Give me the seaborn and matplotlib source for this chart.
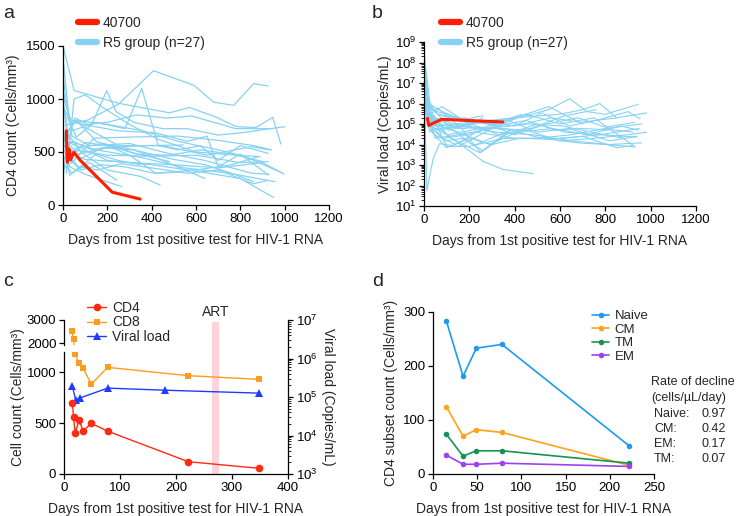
import matplotlib
matplotlib.use("Agg")
import matplotlib.pyplot as plt
import pandas as pd
import seaborn as sns
from matplotlib.lines import Line2D
from matplotlib.ticker import LogLocator, NullFormatter

sns.set_theme(style="ticks")
plt.rcParams["font.family"] = ["Liberation Sans", "DejaVu Sans"]
plt.rcParams["axes.edgecolor"] = "black"
plt.rcParams["axes.linewidth"] = 0.9

# ---- patient 40700 ----
PT_CD4_DAYS = [15, 17, 20, 27, 34, 49, 78, 222, 348]
PT_CD4 = [700, 562, 402, 529, 425, 497, 421, 121, 56]
PT_CD8_DAYS = [14, 17, 20, 27, 34, 49, 78, 222, 348]
PT_CD8 = [2540, 2170, 1177, 1088, 1039, 885, 1049, 967, 931]
PT_VL_DAYS = [15, 21, 28, 78, 181, 348]
PT_VL = [1.9e5, 8.3e4, 9.4e4, 1.7e5, 1.5e5, 1.26e5]
ART_START, ART_END = 264, 277

# ---- R5 group, CD4 counts (panel a) ----
R5_CD4_DAYS = [
    [0, 50, 250, 480, 570, 690, 780, 870, 946, 983],
    [3, 30, 110, 250, 408, 590, 680, 770, 860, 926],
    [8, 60, 130, 197, 240, 320, 450, 560, 700, 800, 1001],
    [2, 40, 150, 280, 355, 430, 520, 620, 700, 800, 926],
    [15, 50, 100, 180, 300, 430, 600, 720, 889],
    [10, 60, 200, 400, 600, 800, 949],
    [5, 30, 100, 265],
    [8, 40, 120, 242],
    [12, 80, 200, 350, 438],
    [5, 70, 200, 350, 543],
    [20, 100, 300, 500, 700, 900, 997],
    [0, 30, 150, 350, 550, 750, 956],
    [10, 60, 250, 450, 650, 850, 934],
    [3, 50, 200, 400, 600, 800, 926],
    [15, 90, 250, 420, 560, 650, 700, 800, 926],
    [0, 40, 120, 300, 470, 640, 850, 930],
    [20, 100, 200, 300, 420, 600, 760, 880],
    [6, 25, 80, 180, 320, 450, 640],
    [10, 50, 140, 290, 520, 700, 860, 940],
    [0, 25, 60, 150, 300, 480],
    [4, 35, 90, 200, 360, 520, 700, 820, 990],
    [18, 70, 160, 260, 400, 560, 700, 860, 920],
    [7, 45, 130, 230, 330, 480, 620, 760, 900],
    [12, 55, 110, 200, 330, 470, 580, 680, 780, 930],
    [2, 20, 80, 170, 280, 410, 540],
    [9, 30, 70, 150, 250, 350],
    [14, 65, 180, 320, 500, 640, 760, 860],
]
R5_CD4 = [
    [1500, 1080, 960, 870, 920, 830, 740, 730, 827, 575],
    [1330, 760, 800, 950, 1267, 1130, 970, 940, 1145, 1123],
    [900, 640, 760, 1078, 880, 780, 720, 720, 660, 680, 739],
    [1060, 700, 780, 720, 1100, 560, 520, 560, 420, 560, 487],
    [300, 1000, 1040, 920, 760, 620, 500, 480, 456],
    [600, 560, 420, 380, 320, 250, 72],
    [450, 360, 290, 173],
    [380, 300, 400, 236],
    [700, 500, 330, 270, 189],
    [550, 480, 540, 560, 566],
    [500, 430, 400, 380, 350, 400, 292],
    [980, 600, 520, 450, 350, 300, 220],
    [750, 780, 560, 560, 470, 550, 519],
    [620, 520, 470, 460, 470, 400, 409],
    [820, 760, 700, 680, 600, 650, 360, 480, 283],
    [1200, 650, 560, 580, 490, 420, 300, 290],
    [420, 590, 560, 470, 300, 330, 380, 456],
    [900, 500, 440, 540, 520, 420, 250],
    [350, 420, 630, 640, 650, 610, 560, 520],
    [250, 700, 800, 600, 500, 410],
    [1000, 800, 790, 760, 700, 600, 520, 460, 300],
    [480, 360, 330, 390, 350, 300, 330, 200, 230],
    [560, 600, 520, 560, 480, 470, 520, 480, 410],
    [640, 820, 760, 780, 850, 820, 840, 780, 720, 720],
    [700, 450, 330, 380, 360, 300, 310],
    [520, 280, 350, 480, 420, 380],
    [460, 540, 580, 520, 430, 380, 300, 220],
]

# ---- R5 group, viral load (panel b) ----
R5_VL_DAYS = [
    [2, 8, 20, 60, 150, 260],
    [3, 10, 13, 40, 69, 150, 300, 450, 600, 750, 930],
    [1, 5, 30, 100, 200, 260, 350, 482],
    [5, 30, 150, 300, 450, 550, 643, 720, 800, 945],
    [3, 25, 80, 200, 400, 600, 700, 776, 850, 982],
    [8, 30, 100, 250, 400, 520, 640, 760, 900, 953],
    [6, 40, 100, 200, 350, 500, 650, 800, 960],
    [10, 50, 150, 300, 450, 600, 750, 900, 982],
    [12, 60, 160, 250, 360, 500, 620, 780, 938],
    [5, 35, 99, 200, 300, 420, 560, 700, 850, 923],
    [7, 45, 120, 246, 380, 520, 680, 800, 931],
    [2, 15, 60, 180, 320, 450, 580, 700, 850, 923],
    [4, 20, 70, 150, 280, 420],
    [9, 40, 130, 260, 400, 540, 680, 800, 930],
    [3, 30, 90, 170, 260],
    [6, 25, 55, 110, 210, 330, 470, 620, 760],
    [10, 50, 200, 400, 550, 700],
    [5, 20, 80, 180, 300, 430],
    [8, 45, 140, 230, 400, 600, 780, 900, 950],
    [15, 40, 100, 250, 370, 500, 640, 820, 940],
    [2, 12, 50, 130, 270, 420, 560, 690, 850],
    [4, 18, 60, 140, 230, 330],
    [6, 30, 85, 190, 310, 460, 610, 740, 880],
    [3, 15, 45, 100, 180, 260],
    [11, 50, 150, 290, 410, 570, 720, 870, 945],
    [7, 40, 110, 220, 380],
    [5, 25, 70, 160, 320, 480, 650, 820, 960],
]
R5_VL = [
    [3e8, 2e7, 1e6, 3e5, 1.5e5, 2.5e5],
    [1e6, 1e3, 58, 2e3, 1.1e4, 8e3, 6e4, 3e5, 1e5, 2e5, 8e3],
    [2e7, 3e6, 8e4, 3e4, 5e3, 1.5e3, 6e2, 3.8e2],
    [1e8, 5e5, 2e5, 1e5, 2.5e5, 5e5, 1.7e6, 4e5, 3e5, 9e5],
    [1e7, 3e5, 7e5, 1e5, 2e5, 3e5, 5e5, 1e6, 2e5, 3.5e5],
    [2e6, 1e5, 6e4, 1.5e5, 8e4, 3.5e5, 8e4, 1.5e5, 4e5, 1.8e5],
    [4e6, 2e5, 8e3, 8e3, 2e4, 2e4, 3e4, 6e4, 1e5],
    [5e5, 2e4, 3e4, 6e4, 5e4, 1.5e4, 2e4, 3e4, 4e4],
    [2e5, 6e5, 7e4, 4e3, 3e4, 1e5, 4e4, 3e4, 2.3e4],
    [3e6, 4e4, 7e3, 2e4, 1e4, 2e4, 1.8e4, 2.5e4, 7e3, 9e3],
    [8e5, 1e5, 2e4, 4e3, 5e4, 2e4, 1.2e4, 1e4, 7.5e3],
    [1e7, 5e5, 1.2e5, 2e5, 8e4, 1.5e5, 5e4, 6e4, 5e4, 4e4],
    [6e6, 2e5, 1.5e5, 6e4, 7e4, 5e4],
    [1e6, 5e4, 8e4, 1.2e5, 3e4, 1e5, 2e5, 7e4, 1.2e5],
    [5e7, 1e5, 1.5e4, 2e4, 5e3],
    [1e6, 4e4, 1.2e5, 5e4, 1e5, 3e4, 6e4, 2.5e5, 5e5],
    [3e5, 8e4, 1.2e5, 2e5, 7e5, 1e5],
    [1.5e7, 1e6, 4e5, 1.5e5, 9e4, 3e5],
    [4e5, 3e4, 1e4, 4e4, 2e4, 2e4, 3e4, 5e4, 6e4],
    [1e5, 3e5, 3e4, 6e4, 1.5e5, 4e4, 6e4, 1.5e4, 2.5e4],
    [2e6, 4e5, 2e5, 1e5, 6e4, 9e4, 2e5, 1.2e5, 2e5],
    [3e7, 8e5, 3e5, 2e5, 1.5e5, 9e4],
    [6e5, 6e4, 2e4, 3e4, 7e4, 1e5, 8e4, 4e4, 2e4],
    [8e6, 1.5e6, 5e5, 9e4, 6e4, 2e5],
    [3e5, 1e5, 4e4, 1e4, 4e4, 6e4, 3e4, 8e4, 5e4],
    [1.2e6, 1.5e5, 7e4, 9e3, 5e4],
    [2e6, 8e4, 5e4, 8e4, 4e4, 3e4, 1.5e4, 1e4, 1.2e4],
]

# ---- CD4 subsets (panel d) ----
SUBSET_DAYS = [15, 34, 49, 78, 222]
SUBSETS = ["Naive", "CM", "TM", "EM"]
SUBSET_COUNTS = {
    "Naive": [284, 181, 233, 240, 52],
    "CM": [125, 70, 82, 77, 16],
    "TM": [74, 33, 43, 43, 20],
    "EM": [35, 18, 18, 20, 14],
}
DECLINE_NAMES = ["Naive:", "CM:", "EM:", "TM:"]
DECLINE_RATES = ["0.97", "0.42", "0.17", "0.07"]

SKY = "#86D2F3"
RED = "#FF1E00"
C_CD4 = "#FF2A12"
C_CD8 = "#FF9B1E"
C_VL = "#1E3CFF"
SUBSET_COLORS = {"Naive": "#1C9BF2", "CM": "#FFA21C", "TM": "#189155", "EM": "#9B42F2"}
XLABEL = "Days from 1st positive test for HIV-1 RNA"
TICK_FS = 9.5
LABEL_FS = 10
SMALL_FS = 9


def long_frame(days_list, vals_list):
    rows = []
    for i, (days, vals) in enumerate(zip(days_list, vals_list)):
        for d, v in zip(days, vals):
            rows.append((i, d, v))
    return pd.DataFrame(rows, columns=["subject", "day", "value"])


def style(ax):
    ax.tick_params(direction="out", length=3.5, width=0.9, labelsize=TICK_FS,
                   colors="black", pad=2)


fig = plt.figure(figsize=(7.38, 5.16), dpi=100)
W, H = 738, 516


def box(left, top, right, bottom):
    return [left / W, 1 - bottom / H, (right - left) / W, (bottom - top) / H]


# ================= panel a =================
ax_a = fig.add_axes(box(63, 46, 329, 205))
sns.lineplot(data=long_frame(R5_CD4_DAYS, R5_CD4), x="day", y="value",
             units="subject", estimator=None, sort=False, color=SKY, lw=0.9,
             legend=False, ax=ax_a)
sns.lineplot(x=PT_CD4_DAYS, y=PT_CD4, sort=False, color=RED, lw=2.2, ax=ax_a)
ax_a.set_xlim(0, 1200)
ax_a.set_ylim(0, 1500)
ax_a.set_xticks(range(0, 1201, 200))
ax_a.set_yticks([0, 500, 1000, 1500])
ax_a.set_xlabel(XLABEL, fontsize=LABEL_FS, labelpad=6)
ax_a.set_ylabel("CD4 count (Cells/mm³)", fontsize=LABEL_FS, labelpad=4)
sns.despine(ax=ax_a)
style(ax_a)

# ================= panel b =================
ax_b = fig.add_axes(box(424, 42, 696, 206))
sns.lineplot(data=long_frame(R5_VL_DAYS, R5_VL), x="day", y="value",
             units="subject", estimator=None, sort=False, color=SKY, lw=0.8,
             legend=False, ax=ax_b)
sns.lineplot(x=PT_VL_DAYS, y=PT_VL, sort=False, color=RED, lw=2.2, ax=ax_b)
ax_b.set_yscale("log")
ax_b.set_xlim(0, 1200)
ax_b.set_ylim(10, 1e9)
ax_b.set_xticks(range(0, 1201, 200))
ax_b.yaxis.set_major_locator(LogLocator(base=10, numticks=12))
ax_b.yaxis.set_minor_locator(LogLocator(base=10, subs=range(2, 10), numticks=12))
ax_b.yaxis.set_minor_formatter(NullFormatter())
ax_b.set_xlabel(XLABEL, fontsize=LABEL_FS, labelpad=6)
ax_b.set_ylabel("Viral load (Copies/mL)", fontsize=LABEL_FS, labelpad=2)
sns.despine(ax=ax_b)
style(ax_b)
ax_b.tick_params(axis="y", which="minor", length=2, width=0.7)

ab_handles = [Line2D([], [], color=RED, lw=4.5), Line2D([], [], color=SKY, lw=4.5)]
ab_labels = ["40700", "R5 group (n=27)"]
for ax, x0 in ((ax_a, (78 - 63) / 266), (ax_b, (441 - 424) / 272)):
    pos = ax.get_position()
    y_anchor = 1 + ((H - 16) - pos.y1 * H) / (pos.height * H)
    ax.legend(ab_handles, ab_labels, loc="upper left",
              bbox_to_anchor=(x0, y_anchor),
              frameon=False, fontsize=LABEL_FS, handlelength=1.4,
              handletextpad=0.4, labelspacing=0.4, borderaxespad=0, borderpad=0)

# ================= panel c =================
ax_cv = fig.add_axes(box(64, 320, 288, 474))
ax_clo = fig.add_axes(box(64, 352, 288, 474))
ax_chi = fig.add_axes(box(64, 320, 288, 345))
ax_cv.set_zorder(0)
ax_clo.set_zorder(1)
ax_chi.set_zorder(1)
for ax in (ax_clo, ax_chi):
    ax.patch.set_alpha(0)

ax_cv.axvspan(ART_START, ART_END, ymin=0, ymax=0.99, color="#FFD2DC", lw=0, zorder=0)
sns.lineplot(x=PT_VL_DAYS, y=PT_VL, sort=False, color=C_VL, lw=1.0, marker="^",
             markersize=6, markeredgewidth=0, ax=ax_cv, zorder=3)
ax_cv.set_yscale("log")
ax_cv.set_ylim(1e3, 1e7)
ax_cv.set_xlim(0, 400)
ax_cv.yaxis.tick_right()
ax_cv.yaxis.set_label_position("right")
ax_cv.yaxis.set_minor_locator(LogLocator(base=10, subs=range(2, 10), numticks=12))
ax_cv.yaxis.set_minor_formatter(NullFormatter())
ax_cv.set_xticks([])
ax_cv.set_ylabel("Viral load (Copies/mL)", fontsize=LABEL_FS, rotation=270,
                 labelpad=13)
for s in ("left", "top", "bottom"):
    ax_cv.spines[s].set_visible(False)
style(ax_cv)
ax_cv.tick_params(axis="y", which="minor", length=2, width=0.7)

for ax in (ax_clo, ax_chi):
    sns.lineplot(x=PT_CD8_DAYS, y=PT_CD8, sort=False, color=C_CD8, lw=1.0,
                 marker="s", markersize=5, markeredgewidth=0, ax=ax)
    ax.set_xlim(0, 400)
sns.lineplot(x=PT_CD4_DAYS, y=PT_CD4, sort=False, color=C_CD4, lw=1.0,
             marker="o", markersize=5.5, markeredgewidth=0, ax=ax_clo)
ax_clo.set_ylim(0, 1200)
ax_clo.set_yticks([0, 500, 1000])
ax_clo.set_xticks(range(0, 401, 100))
ax_clo.set_xlabel(XLABEL, fontsize=LABEL_FS, labelpad=6)
ax_clo.set_ylabel("")
sns.despine(ax=ax_clo)
style(ax_clo)

ax_chi.set_ylim(1927, 3000)
ax_chi.set_yticks([2000, 3000])
ax_chi.set_xticks([])
for s in ("right", "top", "bottom"):
    ax_chi.spines[s].set_visible(False)
style(ax_chi)

fig.text(18 / W, 1 - 397 / H, "Cell count (Cells/mm³)", rotation=90,
         fontsize=LABEL_FS, ha="center", va="center")
fig.text(216 / W, 1 - 312 / H, "ART", fontsize=LABEL_FS, ha="center", va="center")

c_handles = [
    Line2D([], [], color=C_CD4, lw=1.0, marker="o", markersize=5.5, mew=0),
    Line2D([], [], color=C_CD8, lw=1.0, marker="s", markersize=5, mew=0),
    Line2D([], [], color=C_VL, lw=1.0, marker="^", markersize=6, mew=0),
]
fig.legend(c_handles, ["CD4", "CD8", "Viral load"], loc="upper left",
           bbox_to_anchor=(84 / W, 1 - 298 / H), frameon=False, fontsize=LABEL_FS,
           handlelength=1.4, handletextpad=0.4, labelspacing=0.05, borderaxespad=0,
           borderpad=0.2)

# ================= panel d =================
ax_d = fig.add_axes(box(433, 312, 654, 474))
for name in SUBSETS:
    sns.lineplot(x=SUBSET_DAYS, y=SUBSET_COUNTS[name], sort=False,
                 color=SUBSET_COLORS[name], lw=1.2, marker="o", markersize=4,
                 markeredgewidth=0, ax=ax_d, label=name)
ax_d.set_xlim(0, 250)
ax_d.set_ylim(0, 300)
ax_d.set_xticks(range(0, 251, 50))
ax_d.set_yticks([0, 100, 200, 300])
ax_d.set_xlabel(XLABEL, fontsize=LABEL_FS, labelpad=6)
ax_d.set_ylabel("CD4 subset count (Cells/mm³)", fontsize=LABEL_FS, labelpad=4)
sns.despine(ax=ax_d)
style(ax_d)
ax_d.legend(loc="upper left", bbox_to_anchor=((592 - 433) / 221, 1 + 2 / 162),
            frameon=False, fontsize=SMALL_FS + 0.5, handlelength=1.3,
            handletextpad=0.4, labelspacing=0.1, borderaxespad=0, borderpad=0)

fig.text(651 / W, 1 - 382 / H, "Rate of decline", fontsize=SMALL_FS, va="center")
fig.text(651 / W, 1 - 398 / H, "(cells/µL/day)", fontsize=SMALL_FS, va="center")
for i, (nm, rate) in enumerate(zip(DECLINE_NAMES, DECLINE_RATES)):
    y = 1 - (414 + 15 * i) / H
    fig.text(654 / W, y, nm, fontsize=SMALL_FS, va="center")
    fig.text(701 / W, y, rate, fontsize=SMALL_FS, va="center")

# panel letters
for letter, x, y in [("a", 3, 13), ("b", 372, 13), ("c", 3, 282), ("d", 372, 281)]:
    fig.text(x / W, 1 - y / H, letter, fontsize=14, va="center", ha="left")

fig.savefig("out.png", dpi=100)
